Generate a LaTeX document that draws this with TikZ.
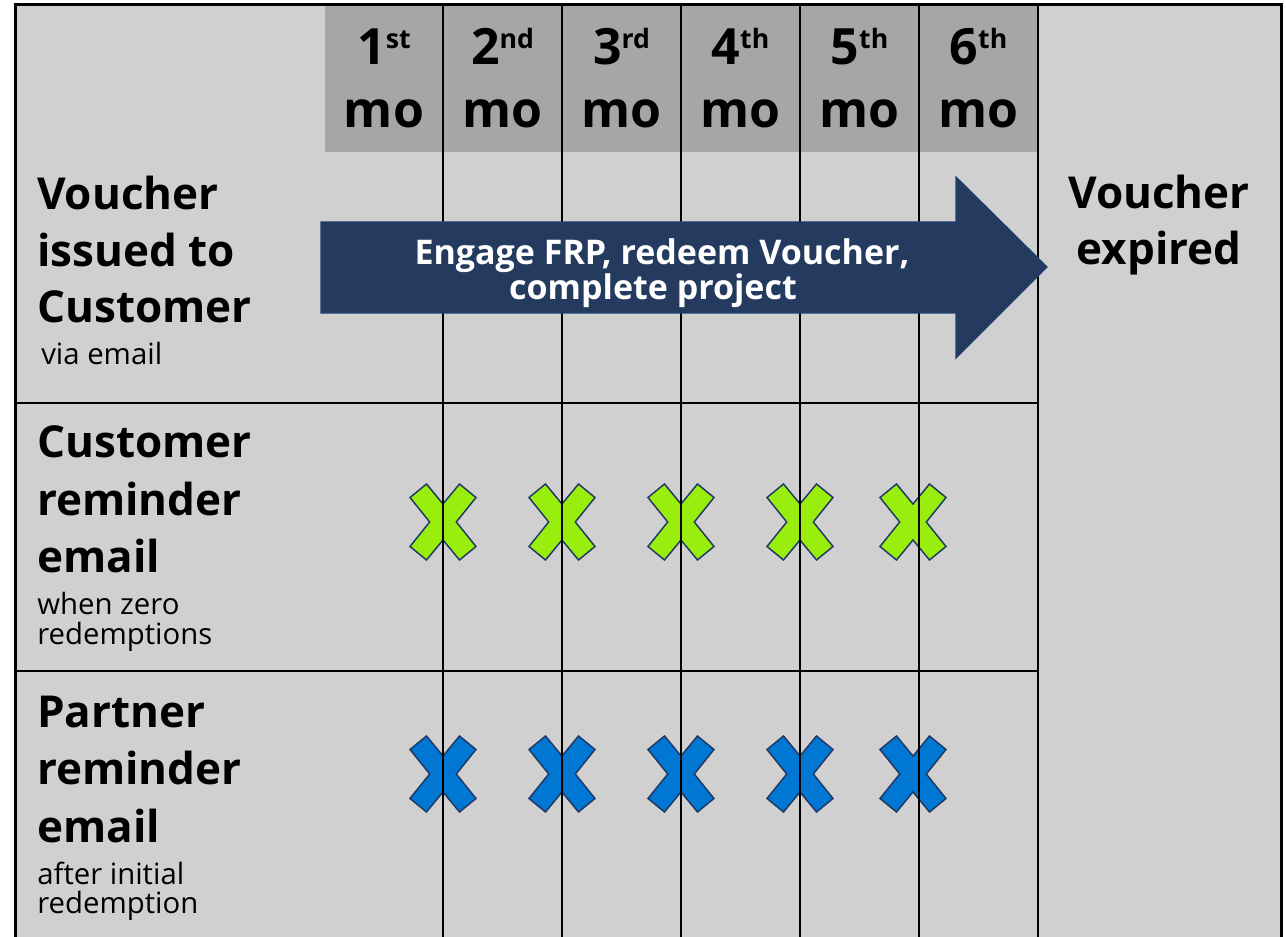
\documentclass[tikz,border=0pt]{standalone}
\usepackage{fontspec}
\setmainfont{Open Sans}
\definecolor{bggray}{HTML}{D0D0D0}
\definecolor{hdrgray}{HTML}{A6A6A6}
\definecolor{navy}{HTML}{243A5E}
\definecolor{arrowborder}{HTML}{1F4170}
\definecolor{xborder}{HTML}{1F3864}
\definecolor{xgreen}{HTML}{99EE0E}
\definecolor{xblue}{HTML}{0077D2}
\newcommand\sups[1]{\raisebox{12pt}{\fontsize{20}{20}\selectfont #1}}
\newcommand\xmark[3]{%
  \filldraw[xshape,fill=#3,shift={(#1,#2)}]
    (-33,-24.5) -- (-16.5,-38) -- (0,-18) -- (16.5,-38) -- (33,-24.5) -- (13.3,0)
    -- (33,24.5) -- (16.5,38) -- (0,18) -- (-16.5,38) -- (-33,24.5) -- (-13.3,0) -- cycle;}
\begin{document}
\begin{tikzpicture}[x=0.75pt,y=-0.75pt,
  gridline/.style={line width=1.5pt, black},
  big/.style={font=\fontsize{33}{40}\selectfont\bfseries, inner sep=0pt, anchor=base west},
  bigc/.style={font=\fontsize{33}{40}\selectfont\bfseries, inner sep=0pt, anchor=base},
  small/.style={font=\fontsize{22}{26}\selectfont, inner sep=0pt, anchor=base west},
  hdr/.style={font=\fontsize{37.5}{45}\selectfont\bfseries, inner sep=0pt, anchor=base},
  arrowtxt/.style={font=\fontsize{25.5}{30}\selectfont\bfseries, text=white, inner sep=0pt, anchor=base},
  xshape/.style={draw=xborder, line width=1.1pt, line join=miter}]
\useasboundingbox (0,0) rectangle (1286,937);
\clip (0,0) rectangle (1286,937);
% backgrounds
\fill[bggray] (15,5) rectangle (1281,950);
\fill[hdrgray] (325,5) rectangle (1038,152);
% crosses
\foreach \x in {443,562,681,800} {\xmark{\x}{522}{xgreen}\xmark{\x}{774}{xblue}}
\xmark{913}{522}{xgreen}
\xmark{913}{774}{xblue}
% grid
\foreach \x in {443,562,681,800,919,1038} \draw[gridline] (\x,5) -- (\x,950);
\draw[gridline] (15,403) -- (1038,403);
\draw[gridline] (15,671) -- (1038,671);
% arrow
\filldraw[fill=navy, draw=arrowborder, line width=1pt]
  (321,222) -- (956,222) -- (956,177) -- (1047,267) -- (956,358) -- (956,313) -- (321,313) -- cycle;
\node[arrowtxt] (arr1) at (662,265) {Engage FRP, redeem Voucher,};
\node[arrowtxt] (arr2) at (653,300) {complete project};
% outer border
\draw[line width=2.25pt] (15,960) -- (15,5) -- (1281,5) -- (1281,960);
% header
\node[hdr] (h1a) at (384,65) {1\sups{st}};
\node[hdr] (h1b) at (384,128) {mo};
\node[hdr] (h2a) at (502.5,65) {2\sups{nd}};
\node[hdr] (h2b) at (502.5,128) {mo};
\node[hdr] (h3a) at (621.5,65) {3\sups{rd}};
\node[hdr] (h3b) at (621.5,128) {mo};
\node[hdr] (h4a) at (740.5,65) {4\sups{th}};
\node[hdr] (h4b) at (740.5,128) {mo};
\node[hdr] (h5a) at (859.5,65) {5\sups{th}};
\node[hdr] (h5b) at (859.5,128) {mo};
\node[hdr] (h6a) at (978.5,65) {6\sups{th}};
\node[hdr] (h6b) at (978.5,128) {mo};
% row 1
\node[big] (r1a) at (37,210) {Voucher};
\node[big] (r1b) at (37,267) {issued to};
\node[big] (r1c) at (37,323) {Customer};
\node[small] (r1d) at (41,365) {via email};
% row 2
\node[big] (r2a) at (37,458) {Customer};
\node[big] (r2b) at (37,516) {reminder};
\node[big] (r2c) at (37,573) {email};
\node[small] (r2d) at (37,615) {when zero};
\node[small] (r2e) at (37,645) {redemptions};
% row 3
\node[big] (r3a) at (37,727) {Partner};
\node[big] (r3b) at (37,784) {reminder};
\node[big] (r3c) at (37,842) {email};
\node[small] (r3d) at (37,884) {after initial};
\node[small] (r3e) at (37,913) {redemption};
% right column
\node[bigc] (e1) at (1159,209) {Voucher};
\node[bigc] (e2) at (1159,265) {expired};
\end{tikzpicture}
\end{document}
